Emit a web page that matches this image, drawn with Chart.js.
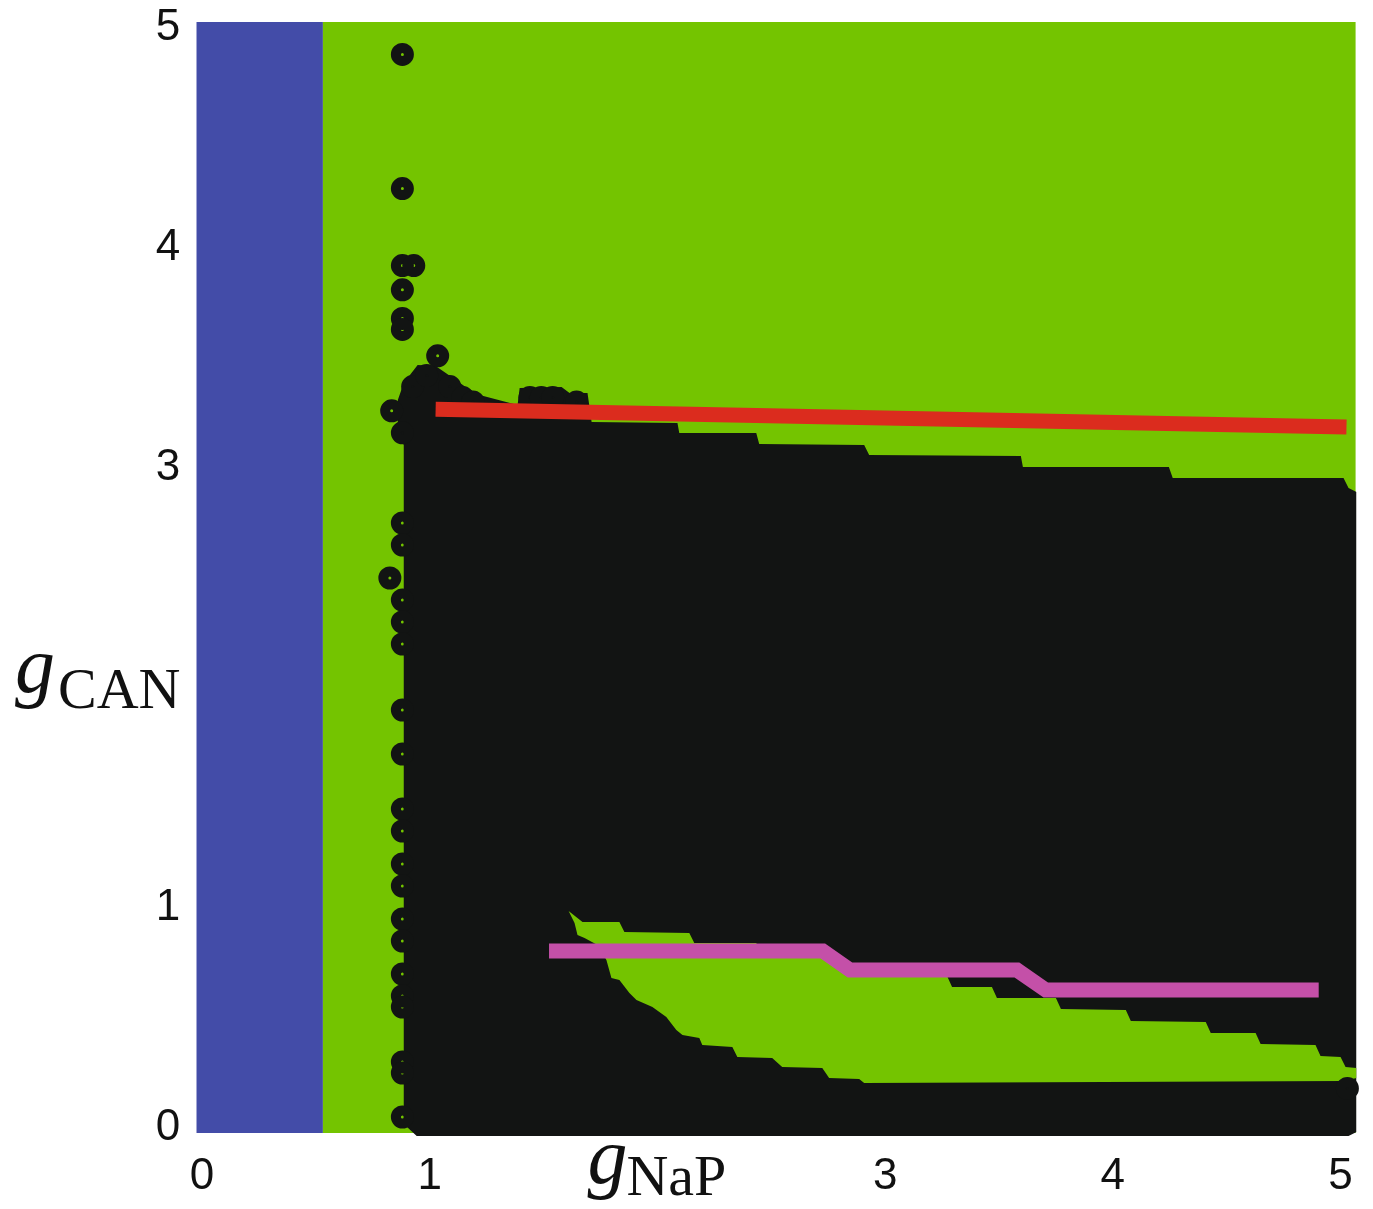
<!DOCTYPE html>
<html><head><meta charset="utf-8">
<script src="https://cdn.jsdelivr.net/npm/chart.js@4.4.1/dist/chart.umd.min.js"></script>
<style>html,body{margin:0;padding:0;background:#fff;} #wrap{width:1373px;height:1209px;position:relative;}</style>
</head><body><div id="wrap"><canvas id="c" width="1373" height="1209"></canvas></div>
<script>
// ---- tick labels ----
const xTickValues = [0, 1, 3, 4, 5];
const yTickValues = [0, 1, 3, 4, 5];
const xTitleMain = 'g', xTitleSub = 'NaP';
const yTitleMain = 'g', yTitleSub = 'CAN';

// ---- region outlines (data units) ----
const blueRegionX = [-0.025, 0.531, 0.531, -0.025];
const blueRegionY = [-0.023, -0.023, 5.027, 5.027];
const greenRegionX = [0.531, 5.066, 5.066, 0.531];
const greenRegionY = [-0.023, -0.023, 5.027, 5.027];

const blackRegionX = [0.943, 0.886, 0.886, 0.860, 0.860, 0.886, 0.947, 1.026, 1.096, 1.158, 1.219, 1.386, 1.395, 1.579, 1.614, 1.693, 1.711, 2.088, 2.096, 2.434, 2.447, 2.908, 2.930, 3.596, 3.605, 4.246, 4.263, 5.013, 5.035, 5.070, 5.070, 5.035];
const blackRegionY = [-0.036, 0.018, 3.105, 3.164, 3.309, 3.386, 3.468, 3.464, 3.414, 3.368, 3.332, 3.286, 3.364, 3.368, 3.341, 3.341, 3.209, 3.205, 3.159, 3.159, 3.109, 3.105, 3.059, 3.055, 3.005, 3.005, 2.955, 2.955, 2.909, 2.891, -0.018, -0.036];

const holeRegionX = [1.610, 1.671, 1.833, 1.855, 2.140, 2.162, 2.434, 2.456, 2.741, 2.763, 3.009, 3.031, 3.272, 3.294, 3.469, 3.491, 3.750, 3.772, 4.057, 4.079, 4.408, 4.430, 4.627, 4.649, 4.890, 4.912, 5.000, 5.022, 5.070, 5.070, 5.013, 2.908, 2.886, 2.754, 2.724, 2.548, 2.504, 2.351, 2.329, 2.197, 2.184, 2.110, 2.083, 2.039, 1.978, 1.908, 1.877, 1.833, 1.798, 1.776, 1.737, 1.680, 1.649, 1.636];
const holeRegionY = [0.986, 0.936, 0.936, 0.891, 0.886, 0.841, 0.841, 0.791, 0.791, 0.741, 0.741, 0.691, 0.691, 0.641, 0.641, 0.591, 0.591, 0.541, 0.536, 0.486, 0.482, 0.432, 0.432, 0.382, 0.377, 0.327, 0.323, 0.277, 0.273, 0.227, 0.214, 0.205, 0.223, 0.227, 0.273, 0.277, 0.318, 0.323, 0.368, 0.377, 0.409, 0.423, 0.445, 0.505, 0.550, 0.582, 0.614, 0.673, 0.682, 0.764, 0.832, 0.864, 0.877, 0.932];

// ---- individual black markers on the edge of the black region ----
const edgePointX = [0.88, 0.88, 0.88, 0.93, 0.88, 0.88, 0.88, 1.035, 0.925, 0.987, 1.088, 1.145, 1.19, 0.833, 0.88, 1.44, 1.49, 1.54, 1.645,
  0.88, 0.88, 0.825, 0.88, 0.88, 0.88, 0.88, 0.88, 0.88, 0.88, 0.88, 0.88, 0.88, 0.88, 0.88, 0.88, 0.88, 0.88, 0.88, 0.88, 5.03];
const edgePointY = [4.88, 4.27, 3.92, 3.92, 3.81, 3.68, 3.63, 3.51, 3.37, 3.42, 3.37, 3.32, 3.30, 3.26, 3.16, 3.32, 3.32, 3.32, 3.30,
  2.75, 2.65, 2.50, 2.40, 2.30, 2.20, 1.90, 1.70, 1.45, 1.35, 1.20, 1.10, 0.95, 0.85, 0.70, 0.60, 0.55, 0.30, 0.25, 0.05, 0.18];

// ---- lines ----
const redLineX = [1.026, 5.026];
const redLineY = [3.267, 3.186];
const magentaLineX = [1.524, 2.726, 2.846, 3.579, 3.706, 4.904];
const magentaLineY = [0.805, 0.805, 0.718, 0.718, 0.627, 0.627];

const zip = (xs, ys) => xs.map((x, i) => ({x, y: ys[i]}));

const polygon = (xs, ys, color, order) => ({
  data: zip(xs, ys), showLine: true, fill: 'shape', backgroundColor: color,
  borderColor: 'rgba(0,0,0,0)', borderWidth: 0, pointRadius: 0, pointHoverRadius: 0, order, clip: false
});

const BLUE = '#434CA8', GREEN = '#74C400', BLACK = '#121413', RED = '#DB2C1E', MAGENTA = '#C450A8';

const titlePlugin = {
  id: 'axisTitles',
  afterDraw(chart) {
    const ctx = chart.ctx;
    const xs = chart.scales.x, ys = chart.scales.y;
    ctx.save();
    ctx.fillStyle = '#111';
    ctx.textBaseline = 'alphabetic';
    ctx.textAlign = 'left';
    const x2 = xs.getPixelForValue(2);
    ctx.font = 'italic 80px "Liberation Serif"';
    ctx.fillText(xTitleMain, x2 - 70, 1183);
    ctx.font = '58px "Liberation Serif"';
    ctx.fillText(xTitleSub, x2 - 31, 1195);
    const y2 = ys.getPixelForValue(2);
    ctx.font = 'italic 80px "Liberation Serif"';
    ctx.fillText(yTitleMain, 15, y2 + 4);
    ctx.font = '58px "Liberation Serif"';
    ctx.fillText(yTitleSub, 58, y2 + 20);
    ctx.restore();
  }
};

new Chart(document.getElementById('c'), {
  type: 'scatter',
  data: {
    datasets: [
      {data: zip(redLineX, redLineY), showLine: true, borderColor: RED, borderWidth: 15, pointRadius: 0, fill: false, order: 0, clip: false, borderCapStyle: 'butt'},
      {data: zip(magentaLineX, magentaLineY), showLine: true, borderColor: MAGENTA, borderWidth: 15, pointRadius: 0, fill: false, order: 1, clip: false, borderCapStyle: 'butt', borderJoinStyle: 'miter'},
      {data: zip(edgePointX, edgePointY), showLine: false, pointRadius: 6.5, borderWidth: 10, borderColor: BLACK, backgroundColor: 'rgba(0,0,0,0)', order: 2, clip: false},
      polygon(holeRegionX, holeRegionY, GREEN, 3),
      polygon(blackRegionX, blackRegionY, BLACK, 4),
      polygon(greenRegionX, greenRegionY, GREEN, 5),
      polygon(blueRegionX, blueRegionY, BLUE, 6)
    ]
  },
  options: {
    responsive: false,
    animation: false,
    devicePixelRatio: 1,
    layout: {padding: {left: 0, right: 15, top: 21.4, bottom: 0}},
    plugins: {legend: {display: false}, tooltip: {enabled: false}},
    scales: {
      x: {
        type: 'linear', min: -0.025, max: 5.07,
        grid: {display: false, drawTicks: false},
        border: {display: false},
        afterBuildTicks: s => { s.ticks = xTickValues.map(v => ({value: v})); },
        afterFit: s => { s.height = 72.2; s.paddingLeft = 0; s.paddingRight = 0; s.paddingTop = 0; s.paddingBottom = 0; },
        ticks: {autoSkip: false, maxRotation: 0, padding: 14, color: '#111', font: {family: '"Liberation Sans", Arial, sans-serif', size: 44}, callback: v => String(v)}
      },
      y: {
        type: 'linear', min: -0.04, max: 5.03,
        grid: {display: false, drawTicks: false},
        border: {display: false},
        afterBuildTicks: s => { s.ticks = yTickValues.map(v => ({value: v})); },
        afterFit: s => { s.width = 196.3; s.paddingLeft = 0; s.paddingRight = 0; s.paddingTop = 0; s.paddingBottom = 0; },
        ticks: {autoSkip: false, padding: 16, color: '#111', font: {family: '"Liberation Sans", Arial, sans-serif', size: 44}, callback: v => String(v)}
      }
    }
  },
  plugins: [titlePlugin]
});
</script></body></html>
